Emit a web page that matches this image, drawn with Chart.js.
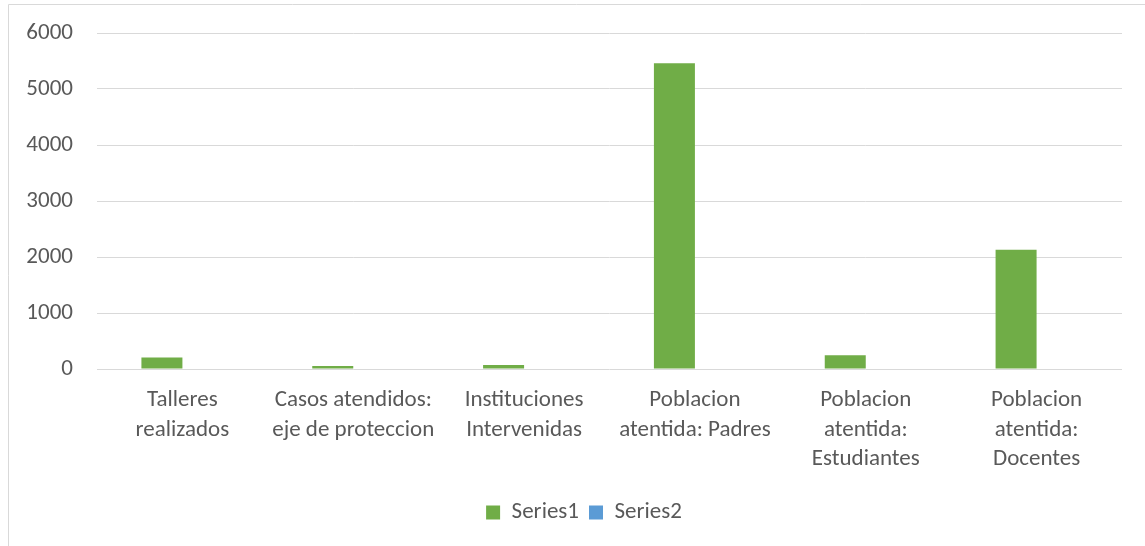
<!DOCTYPE html>
<html>
<head>
<meta charset="utf-8">
<script src="https://cdn.jsdelivr.net/npm/chart.js@4/dist/chart.umd.min.js"></script>
<style>
  html, body { margin: 0; padding: 0; background: #fff; }
  #wrap { position: relative; width: 1145px; height: 546px; }
</style>
</head>
<body>
<div id="wrap"><canvas id="c" width="1145" height="546"></canvas></div>
<script>
const categories = [
  ["Talleres", "realizados"],
  ["Casos atendidos:", "eje de proteccion"],
  ["Instituciones", "Intervenidas"],
  ["Poblacion", "atentida: Padres"],
  ["Poblacion", "atentida:", "Estudiantes"],
  ["Poblacion", "atentida:", "Docentes"]
];
const series1 = [205, 55, 70, 5460, 245, 2130];
const series2 = [0, 0, 0, 0, 0, 0];
const yTicks = [0, 1000, 2000, 3000, 4000, 5000, 6000];

const FONT = "Carlito, Calibri, Lato, 'Liberation Sans', sans-serif";
const FS = 23;
const TXT = "#595959";
const GRID = "#D9D9D9";

const framePlugin = {
  id: 'frame',
  afterLayout(chart) {
    if (chart.legend) {
      chart.legend.left += 23;
      chart.legend.right += 23;
    }
  },
  beforeDraw(chart) {
    const ctx = chart.ctx;
    ctx.save();
    ctx.strokeStyle = GRID;
    ctx.lineWidth = 1;
    ctx.beginPath();
    ctx.moveTo(8.5, 546);
    ctx.lineTo(8.5, 4.5);
    ctx.lineTo(1145, 4.5);
    ctx.stroke();
    ctx.restore();
  }
};

new Chart(document.getElementById('c'), {
  type: 'bar',
  data: {
    labels: categories,
    datasets: [
      { label: 'Series1', data: series1, backgroundColor: '#70AD47', borderWidth: 0 },
      { label: 'Series2', data: series2, backgroundColor: '#5B9BD5', borderWidth: 0 }
    ]
  },
  options: {
    responsive: false,
    animation: false,
    devicePixelRatio: 1,
    layout: { padding: { left: 0, right: 23, top: 33, bottom: 12 } },
    datasets: { bar: { categoryPercentage: 0.48, barPercentage: 1 } },
    plugins: {
      legend: {
        position: 'bottom',
        labels: {
          color: TXT,
          font: { family: FONT, size: FS },
          boxWidth: 14, boxHeight: 14,
          padding: 10
        }
      },
      tooltip: { enabled: false }
    },
    scales: {
      x: {
        grid: { display: false },
        border: { display: false },
        ticks: {
          color: TXT,
          font: { family: FONT, size: FS, lineHeight: 1.28 },
          padding: 9,
          maxRotation: 0, autoSkip: false
        },
        afterFit(s) { s.height = 122; }
      },
      y: {
        min: 0, max: 6000,
        afterBuildTicks(s) { s.ticks = yTicks.map(v => ({ value: v })); },
        grid: { color: GRID, lineWidth: 1, drawTicks: true, tickLength: 20, tickColor: 'rgba(0,0,0,0)' },
        border: { display: false },
        ticks: {
          color: TXT,
          font: { family: FONT, size: FS },
          padding: 4,
          callback: v => String(v)
        },
        afterFit(s) { s.width = 97; }
      }
    }
  },
  plugins: [framePlugin]
});
</script>
</body>
</html>
